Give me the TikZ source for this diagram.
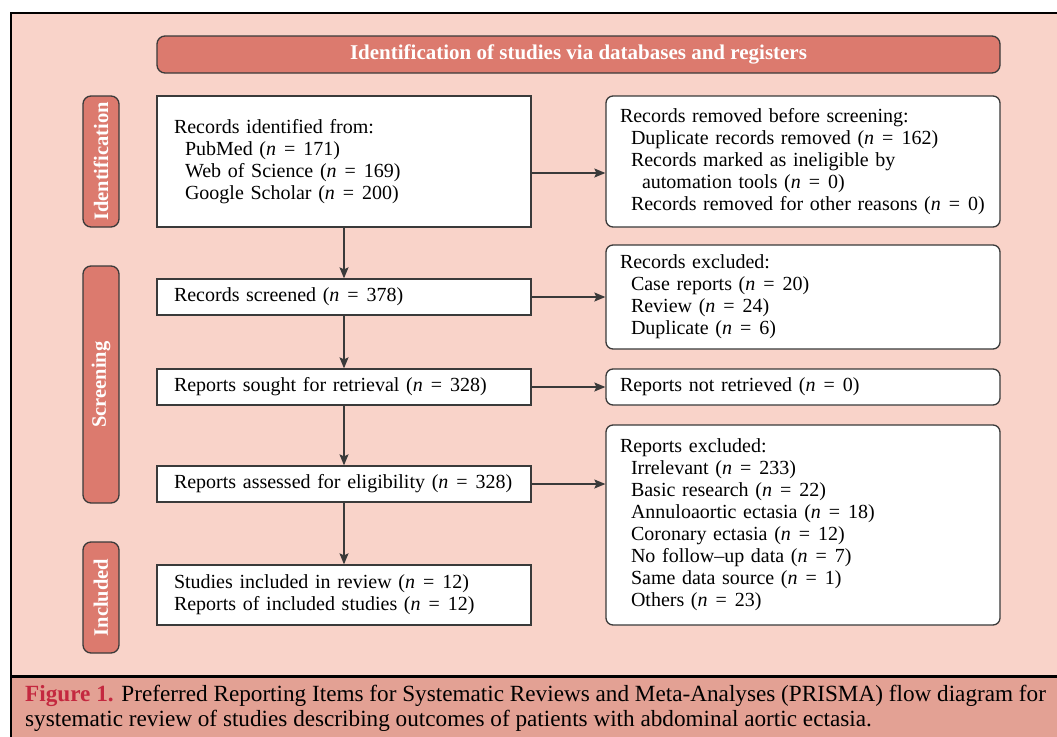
\documentclass[tikz,border=0pt]{standalone}
\usepackage{fontspec}
\setmainfont{Liberation Serif}
\usetikzlibrary{arrows.meta}
\definecolor{bgpink}{HTML}{F9D3C9}
\definecolor{hdr}{HTML}{DC7A6E}
\definecolor{capbg}{HTML}{E3A194}
\definecolor{edge}{HTML}{3A3A3A}
\definecolor{figred}{HTML}{C4283F}
\newcommand{\ind}{\hspace*{11pt}}
\newcommand{\nn}[1]{(\textit{n}\kern0.4em=\kern0.4em#1)}
\begin{document}
\begin{tikzpicture}[x=1pt,y=-1pt,
  every node/.style={font=\fontsize{20}{22}\selectfont},
  lbox/.style={draw=edge, line width=1.3pt, fill=white, inner xsep=17pt, inner ysep=0pt, text width=340pt, align=left},
  rbox/.style={draw=edge, line width=1.3pt, fill=white, rounded corners=7pt, inner xsep=14pt, inner ysep=0pt, text width=366pt, align=left},
  phase/.style={draw=edge, line width=1.3pt, fill=hdr, rounded corners=8pt, minimum width=36pt, inner sep=0pt, text=white, font=\fontsize{20.5}{22}\selectfont\bfseries},
  arr/.style={draw=edge, line width=1.3pt, -{Stealth[length=11pt,width=9pt,inset=2pt]}}]
\useasboundingbox (0,0) rectangle (1057,736);
\clip (0,0) rectangle (1057,736);
% background areas
\fill[bgpink] (11,13) rectangle (1070,677);
\fill[capbg] (11,677) rectangle (1070,750);
\draw[line width=2pt] (1070,13) -- (11,13) -- (11,750);
\draw[line width=2.6pt] (11,676.5) -- (1070,676.5);
% header
\node[phase, minimum width=843pt, minimum height=37pt, font=\fontsize{21}{22}\selectfont\bfseries] (hdr) at (578.5,54.5) {Identification of studies via databases and registers};
% phase bars
\node[phase, minimum height=131pt] (pid) at (101,161.5) {\rotatebox{90}{Identification}};
\node[phase, minimum height=237pt] (psc) at (101,384.5) {\rotatebox{90}{Screening}};
\node[phase, minimum height=111pt] (pin) at (101,597.5) {\rotatebox{90}{Included}};
% left boxes
\node[lbox, minimum height=131pt] (b1) at (344,161.5) {Records identified from:\\ \ind PubMed \nn{171}\\ \ind Web of Science \nn{169}\\ \ind Google Scholar \nn{200}};
\node[lbox, minimum height=36pt] (b2) at (344,297) {Records screened \nn{378}};
\node[lbox, minimum height=36pt] (b3) at (344,387) {Reports sought for retrieval \nn{328}};
\node[lbox, minimum height=36pt] (b4) at (344,484) {Reports assessed for eligibility \nn{328}};
\node[lbox, minimum height=60pt] (b5) at (344,595) {Studies included in review \nn{12}\\ Reports of included studies \nn{12}};
% right boxes
\node[rbox, minimum height=131pt] (r1) at (803,161.5) {Records removed before screening:\\ \ind Duplicate records removed \nn{162}\\ \ind Records marked as ineligible by\\ \ind\ind automation tools \nn{0}\\ \ind Records removed for other reasons \nn{0}};
\node[rbox, minimum height=104pt] (r2) at (803,297) {Records excluded:\\ \ind Case reports \nn{20}\\ \ind Review \nn{24}\\ \ind Duplicate \nn{6}};
\node[rbox, minimum height=36pt] (r3) at (803,387) {Reports not retrieved \nn{0}};
\node[rbox, minimum height=200pt] (r4) at (803,525) {Reports excluded:\\ \ind Irrelevant \nn{233}\\ \ind Basic research \nn{22}\\ \ind Annuloaortic ectasia \nn{18}\\ \ind Coronary ectasia \nn{12}\\ \ind No follow--up data \nn{7}\\ \ind Same data source \nn{1}\\ \ind Others \nn{23}};
% vertical arrows
\draw[arr] (b1) -- (b2);
\draw[arr] (b2) -- (b3);
\draw[arr] (b3) -- (b4);
\draw[arr] (b4) -- (b5);
% horizontal arrows
\coordinate (y1) at (0,173);
\draw[arr] (b1.east |- y1) -- (r1.west |- y1);
\draw[arr] (b2) -- (r2);
\draw[arr] (b3) -- (r3);
\draw[arr] (b4.east) -- (b4.east -| r4.west);
% caption
\node[anchor=north west, inner sep=0pt, align=left, font=\fontsize{23.2}{25}\selectfont] (cap) at (25,685) {\textcolor{figred}{\textbf{Figure 1.}} Preferred Reporting Items for Systematic Reviews and Meta-Analyses (PRISMA) flow diagram for\\ systematic review of studies describing outcomes of patients with abdominal aortic ectasia.};
\end{tikzpicture}
\end{document}
